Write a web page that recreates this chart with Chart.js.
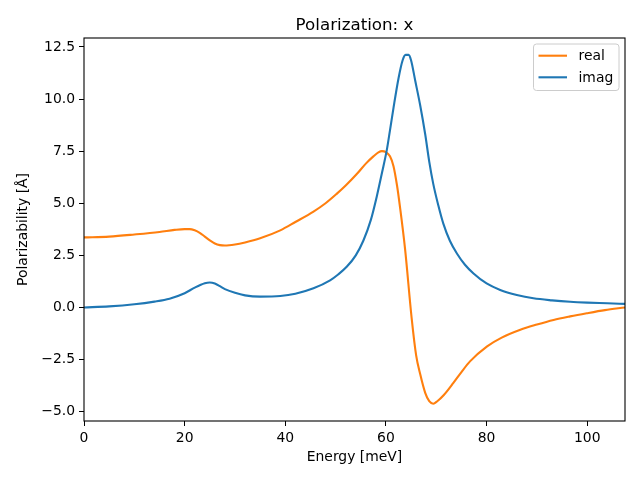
<!DOCTYPE html>
<html>
<head>
<meta charset="utf-8">
<script src="https://cdn.jsdelivr.net/npm/chart.js@4"></script>
<style>
  html, body { margin: 0; padding: 0; background: #fff; }
  #wrap { width: 640px; height: 480px; }
</style>
</head>
<body>
<div id="wrap"><canvas id="myChart" width="640" height="480"></canvas></div>
<script>
// Realteil
const realEnergy = [0, 5, 10, 15, 18, 20, 21, 22, 23, 24, 25, 26, 27, 28, 30, 32, 35, 39, 42, 45.6, 48, 50.2, 52, 54.2, 56, 57.5, 58.5, 59.2, 60, 60.8, 61.5, 62.2, 62.8, 63.8, 65.1, 66, 66.8, 67.8, 68.6, 69.4, 70.2, 71.5, 73.4, 75, 76.7, 80.1, 83, 86.7, 90, 93.3, 96.6, 99.9, 103.5, 107.5];
const realValues = [3.36, 3.40, 3.50, 3.62, 3.72, 3.76, 3.76, 3.70, 3.58, 3.40, 3.22, 3.07, 2.99, 2.97, 3.02, 3.12, 3.32, 3.7, 4.1, 4.6, 5.0, 5.45, 5.85, 6.4, 6.9, 7.25, 7.44, 7.5, 7.45, 7.25, 6.78, 5.85, 4.8, 2.8, -0.5, -2.3, -3.2, -4.1, -4.5, -4.62, -4.5, -4.2, -3.62, -3.1, -2.59, -1.87, -1.45, -1.07, -0.82, -0.6, -0.43, -0.28, -0.13, 0.0];

// Imaginärteil
const imagEnergy = [0, 5, 10, 14, 17, 20, 22, 24, 25, 26, 27, 28, 30, 32, 35, 39, 42, 45.6, 48.9, 50.5, 52.2, 54, 55.5, 57, 58.2, 59.2, 60.2, 60.8, 61.5, 62.5, 63.3, 63.9, 64.5, 65, 65.8, 66.8, 67.8, 68.6, 69.4, 70.4, 71.4, 72.7, 74.1, 75.7, 77.4, 80, 82.7, 86, 89.3, 93, 96.6, 100, 104, 107.5];
const imagValues = [0.0, 0.05, 0.15, 0.28, 0.42, 0.68, 0.95, 1.16, 1.2, 1.15, 1.02, 0.88, 0.7, 0.58, 0.52, 0.55, 0.66, 0.92, 1.3, 1.58, 1.95, 2.5, 3.2, 4.2, 5.35, 6.45, 7.6, 8.5, 9.58, 11.0, 11.85, 12.12, 12.12, 11.85, 10.9, 9.7, 8.31, 7.0, 5.93, 4.9, 4.02, 3.2, 2.59, 2.05, 1.63, 1.15, 0.84, 0.6, 0.44, 0.34, 0.27, 0.23, 0.2, 0.17];

const seriesLabels = ['real', 'imag'];
const chartTitle = 'Polarization: x';
const xTitle = 'Energy [meV]';
const yTitle = 'Polarizability [Å]';

const FONT = '"DejaVu Sans", sans-serif';

// Rahmen, Titel und Legende wie bei matplotlib
const mplLook = {
    id: 'mplLook',
    afterDatasetsDraw(chart) {
        const {ctx, chartArea: a} = chart;
        ctx.save();
        // Rahmen
        ctx.strokeStyle = '#000';
        ctx.lineWidth = 1.1;
        ctx.strokeRect(a.left, a.top, a.right - a.left, a.bottom - a.top);

        // Titel
        ctx.fillStyle = '#000';
        ctx.font = '16.7px ' + FONT;
        ctx.textAlign = 'center';
        ctx.textBaseline = 'alphabetic';
        ctx.fillText(chartTitle, (a.left + a.right) / 2, a.top - 8.3);

        // Legende
        const bx = a.right - 91.5, by = a.top + 6, bw = 85.5, bh = 46.5, r = 3;
        ctx.beginPath();
        ctx.moveTo(bx + r, by);
        ctx.arcTo(bx + bw, by, bx + bw, by + bh, r);
        ctx.arcTo(bx + bw, by + bh, bx, by + bh, r);
        ctx.arcTo(bx, by + bh, bx, by, r);
        ctx.arcTo(bx, by, bx + bw, by, r);
        ctx.closePath();
        ctx.fillStyle = 'rgba(255,255,255,0.8)';
        ctx.fill();
        ctx.strokeStyle = '#cccccc';
        ctx.lineWidth = 1;
        ctx.stroke();

        ctx.font = '13.9px ' + FONT;
        ctx.textAlign = 'left';
        ctx.textBaseline = 'middle';
        chart.data.datasets.forEach((ds, i) => {
            const y = by + 11.7 + i * 21.6;
            ctx.strokeStyle = ds.borderColor;
            ctx.lineWidth = 2.1;
            ctx.beginPath();
            ctx.moveTo(bx + 5, y);
            ctx.lineTo(bx + 33.5, y);
            ctx.stroke();
            ctx.fillStyle = '#000';
            ctx.fillText(ds.label, bx + 45, y + 1);
        });
        ctx.restore();
    }
};

function toPoints(xs, ys) {
    return xs.map((x, i) => ({x: x, y: ys[i]}));
}

const ctx = document.getElementById('myChart').getContext('2d');

new Chart(ctx, {
    type: 'line',
    data: {
        datasets: [
            {
                label: seriesLabels[0],
                data: toPoints(realEnergy, realValues),
                borderColor: '#ff7f0e',
                borderWidth: 2.1,
                pointRadius: 0,
                cubicInterpolationMode: 'monotone',
                fill: false,
                order: 1
            },
            {
                label: seriesLabels[1],
                data: toPoints(imagEnergy, imagValues),
                borderColor: '#1f77b4',
                borderWidth: 2.1,
                pointRadius: 0,
                cubicInterpolationMode: 'monotone',
                fill: false,
                order: 0
            }
        ]
    },
    options: {
        responsive: false,
        animation: false,
        events: [],
        layout: { padding: { top: 38, right: 15, left: 0, bottom: 0 } },
        plugins: {
            legend: { display: false },
            title: { display: false },
            tooltip: { enabled: false }
        },
        scales: {
            x: {
                type: 'linear',
                min: 0,
                max: 107.5,
                afterFit: (s) => { s.height = 59; },
                border: { display: false },
                grid: { drawOnChartArea: false, drawTicks: true, tickLength: 5, color: '#000' },
                ticks: {
                    stepSize: 20,
                    includeBounds: false,
                    padding: 4,
                    color: '#000',
                    maxRotation: 0,
                    font: { family: FONT, size: 13.9 },
                    callback: (v) => String(v)
                },
                title: {
                    display: true,
                    text: xTitle,
                    color: '#000',
                    font: { family: FONT, size: 13.9 },
                    padding: { top: 0, bottom: 14 }
                }
            },
            y: {
                type: 'linear',
                min: -5.45,
                max: 12.93,
                afterFit: (s) => { s.width = 84; },
                border: { display: false },
                grid: { drawOnChartArea: false, drawTicks: true, tickLength: 5, color: '#000' },
                ticks: {
                    stepSize: 2.5,
                    includeBounds: false,
                    padding: 4,
                    color: '#000',
                    font: { family: FONT, size: 13.9 },
                    callback: (v) => (v < 0 ? '\u2212' : '') + Math.abs(v).toFixed(1)
                },
                title: {
                    display: true,
                    text: yTitle,
                    color: '#000',
                    font: { family: FONT, size: 13.9 },
                    padding: { top: 15, bottom: 0 }
                }
            }
        }
    },
    plugins: [mplLook]
});
</script>
</body>
</html>
